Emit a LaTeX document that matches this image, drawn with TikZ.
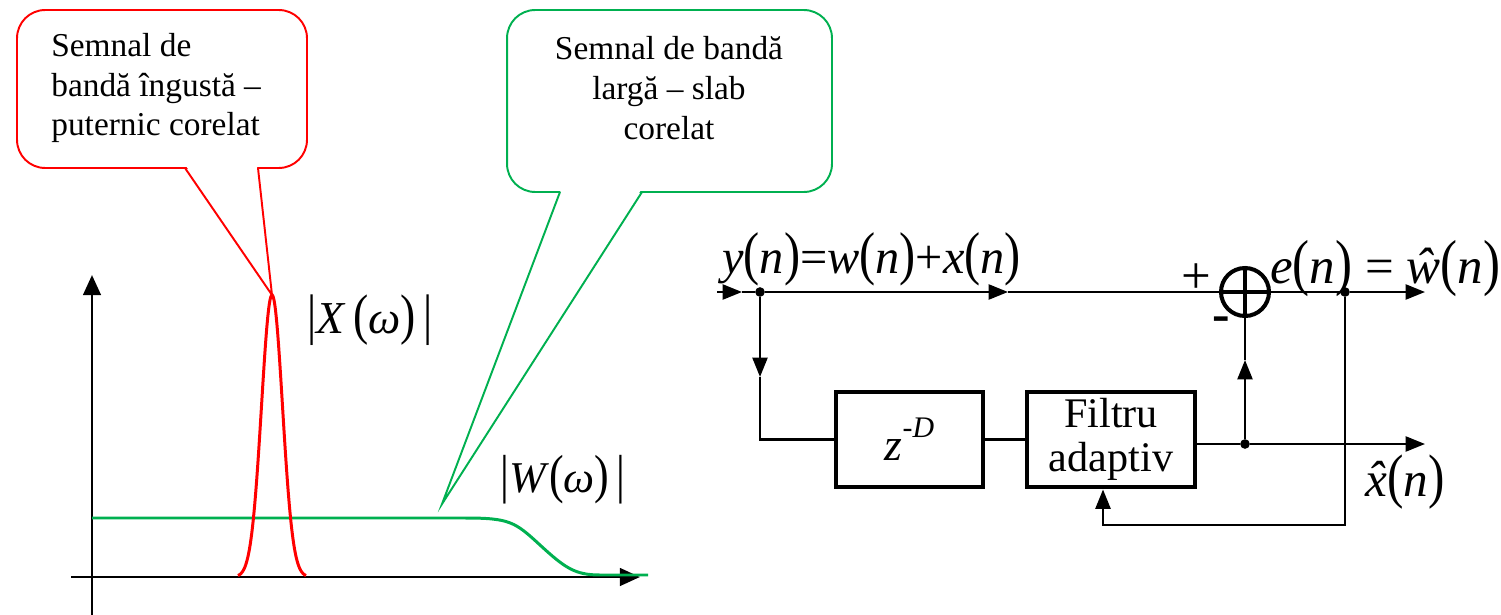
\documentclass[tikz,border=0pt]{standalone}
\usepackage{fontspec}
\setmainfont{Liberation Serif}
\usepackage{graphicx}
\usetikzlibrary{arrows.meta}
\definecolor{NarrowRed}{RGB}{255,0,0}
\definecolor{WideGreen}{RGB}{0,176,80}
\newcommand{\tallp}[1]{\scalebox{1}[1.22]{#1}}
\newcommand{\hatx}{\textit{x}\llap{\raisebox{0.02em}{\textit{ˆ}}\kern0.02em}}

\begin{document}
\begin{tikzpicture}[x=0.02cm,y=-0.02cm,>={Triangle[length=11pt,width=8.5pt]},
    wire/.style={line width=1.4pt},
    axis/.style={line width=1.7pt,-{Triangle[length=11.5pt,width=10pt]}},
    bubble/.style={draw=#1,fill=white,line width=1.1pt,rounded corners=16pt,inner sep=0pt},
    block/.style={draw,line width=2.8pt,inner sep=0pt,minimum height=1.9cm,font=\fontsize{24}{25}\selectfont},
    jdot/.style={circle,fill,inner sep=0pt,minimum size=5.5pt},
    sig/.style={font=\fontsize{26}{28}\selectfont}]
  \useasboundingbox (0,0) rectangle (1501,615);
  % spectra
  \coordinate (ybot) at (92,615);
  \coordinate (ytop) at (92,275);
  \coordinate (xleft) at (71,577);
  \coordinate (xright) at (640,577);
  \draw[axis] (ybot) -- (ytop);
  \draw[axis] (xleft) -- (xright);
  \draw[WideGreen,line width=1.7pt] (92,518) -- (465,518) .. controls (510,518) and (515,522) .. (540,545)
    .. controls (565,568) and (575,575) .. (600,575) -- (648,575);
  \draw[NarrowRed,line width=1.7pt] plot[domain=-34:34,samples=90,smooth] ({272+\x},{577-282*exp(-(\x*\x)/220)});
  \node[sig] (xmag) at (370,320) {\tallp{|}\textit{X}\,\tallp{(}\textit{ω}\tallp{)}\,\tallp{|}};
  \node[sig,font=\fontsize{25}{28}\selectfont] (wmag) at (563,480) {\tallp{|}\textit{W}\tallp{(}\textit{ω}\tallp{)}\,\tallp{|}};
  % callouts
  \node[bubble=NarrowRed,minimum width=5.8cm,minimum height=3.16cm] (narrow) at (162,89) {};
  \coordinate (ntip) at (272,295);
  \fill[white] (186,166) -- (ntip) -- (257,166) -- cycle;
  \draw[NarrowRed,line width=1.1pt] (185,168) -- (ntip) -- (258,168);
  \node[anchor=west,align=left,inner sep=0pt,font=\fontsize{19}{22.7}\selectfont] (narrowtxt) at (51,88)
    {Semnal de\\bandă îngustă –\\puternic corelat};
  \node[bubble=WideGreen,minimum width=6.5cm,minimum height=3.64cm] (wide) at (669.5,101) {};
  \coordinate (wtip) at (442,504);
  \fill[white] (561,190) -- (wtip) -- (641,190) -- cycle;
  \draw[WideGreen,line width=1.1pt] (560,192) -- (wtip) -- (642,192);
  \node[align=center,inner sep=0pt,font=\fontsize{19}{22.7}\selectfont] (widetxt) at (669,88)
    {Semnal de bandă\\largă – slab\\corelat};
  % canceller
  \coordinate (in) at (717,292);
  \coordinate (inarr) at (742,292);
  \node[jdot] (split) at (760,292) {};
  \coordinate (toparr) at (1008,292);
  \node[circle,draw,line width=2.3pt,inner sep=0pt,minimum size=0.96cm] (sum) at (1245,292) {};
  \draw[line width=2.3pt] (sum.north) -- (sum.south) (sum.west) -- (sum.east);
  \node[jdot] (tap) at (1345,292) {};
  \coordinate (outarr) at (1425,292);
  \node[block,minimum width=2.94cm] (delay) at (909.5,439.5)
    {{\fontsize{26}{26}\selectfont\textit{z}}\raisebox{13pt}{\fontsize{17}{17}\selectfont -\textit{D}}};
  \node[block,minimum width=3.36cm,align=center] (filter) at (1111,439.5) {Filtru\\adaptiv};
  \node[jdot] (fork) at (1245,444) {};
  \coordinate (xarr) at (1425,444);
  \coordinate (downarr) at (760,377);
  \coordinate (uparr) at (1245,360);
  \coordinate (fbcorner) at (1103,525);
  \draw[wire,->] (in) -- (inarr);
  \draw[wire] (inarr) -- (split);
  \draw[wire,->] (split) -- (toparr);
  \draw[wire] (toparr) -- (sum.west);
  \draw[wire] (sum.east) -- (tap);
  \draw[wire,->] (tap) -- (outarr);
  \draw[wire,->] (split) -- (downarr);
  \draw[wire] (downarr) |- (delay.west);
  \draw[wire] (delay.east) -- (filter.west);
  \draw[wire] (filter.east |- fork) -- (fork);
  \draw[wire,->] (fork) -- (xarr);
  \draw[wire,->] (fork) -- (uparr);
  \draw[wire] (uparr) -- (sum.south);
  \draw[wire,->] (tap) |- (fbcorner) -- (fbcorner |- filter.south);
  \node[font=\fontsize{30}{30}\selectfont,inner sep=0pt] (plus) at (1196,279) {+};
  \node[font=\fontsize{30}{30}\selectfont\bfseries,inner sep=0pt] (minus) at (1221,324) {-};
  \node[anchor=base west,inner sep=0pt,font=\fontsize{27.5}{28}\selectfont] (ylab) at (722,273)
    {\textit{y}\tallp{(}\textit{n}\tallp{)}=\textit{w}\tallp{(}\textit{n}\tallp{)}+\textit{x}\tallp{(}\textit{n}\tallp{)}};
  \node[anchor=base west,inner sep=0pt,font=\fontsize{29}{29}\selectfont] (elab) at (1270,283)
    {\textit{e}\tallp{(}\textit{n}\tallp{)} = \textit{ŵ}\tallp{(}\textit{n}\tallp{)}};
  \node[inner sep=0pt,font=\fontsize{28}{28}\selectfont] (xlab) at (1405,482)
    {\hatx\tallp{(}\textit{n}\tallp{)}};
\end{tikzpicture}
\end{document}
